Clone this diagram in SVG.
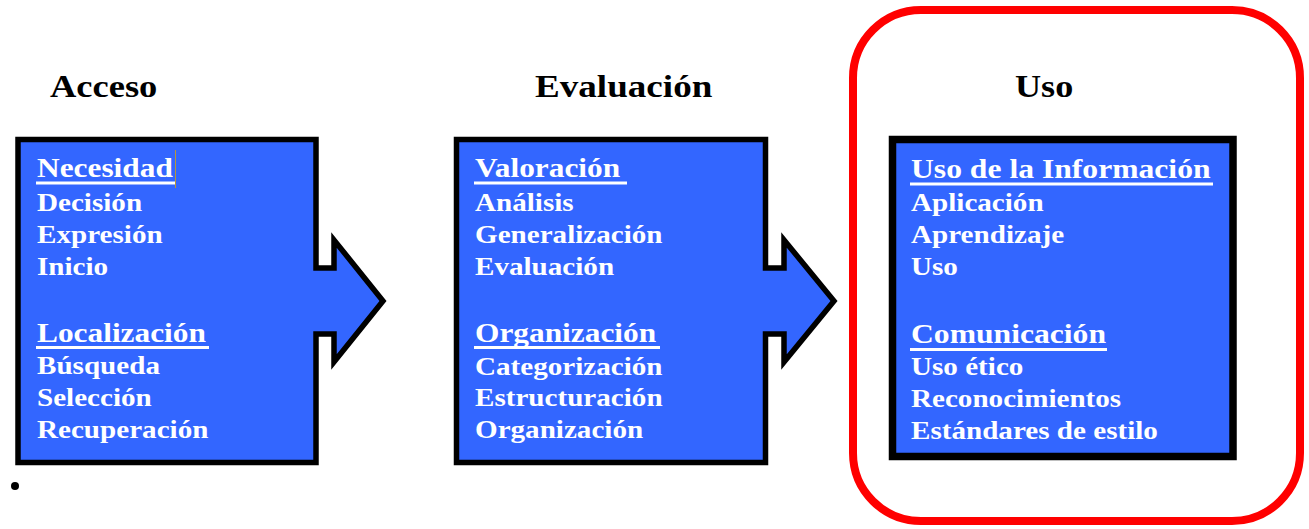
<svg xmlns="http://www.w3.org/2000/svg" width="1309" height="529" viewBox="0 0 1309 529">
<style>
.box{fill:#3366FF;stroke:#000;stroke-width:5.5;stroke-linejoin:miter;stroke-miterlimit:10}
.hd{font-family:"Liberation Serif","Times New Roman",serif;font-weight:bold;font-size:32px;fill:#000}
.t{font-family:"Liberation Serif","Times New Roman",serif;font-weight:bold;fill:#fff}
.h{font-size:28px}
.i{font-size:26px}
.ul{stroke:#fff;stroke-width:3}
</style>
<rect id="highlight" x="853" y="10" width="447" height="511" rx="68" ry="68" fill="none" stroke="#FF0000" stroke-width="8"/>
<g id="headings">
<text class="hd" transform="translate(50 97) scale(1.14 1)">Acceso</text>
<text class="hd" transform="translate(535 97) scale(1.16 1)">Evaluación</text>
<text class="hd" transform="translate(1015 97) scale(1.13 1)">Uso</text>
</g>
<g id="connectors">
</g>
<g id="node-acceso">
<path class="box" d="M18,139.5 H316 V268 H334 V240 L383,301 L334,362 V334 H316 V462.5 H18 Z"/>
<text class="t h" transform="translate(37 177) scale(1.12 1)">Necesidad</text>
<line class="ul" x1="36" y1="183" x2="175" y2="183"/>
<line x1="175.5" y1="150" x2="175.5" y2="188" stroke="#B8963A" stroke-width="1"/>
<text class="t i" transform="translate(37 211) scale(1.12 1)">Decisión</text>
<text class="t i" transform="translate(37 243) scale(1.12 1)">Expresión</text>
<text class="t i" transform="translate(37 275) scale(1.12 1)">Inicio</text>
<text class="t h" transform="translate(37 342) scale(1.12 1)">Localización</text>
<line class="ul" x1="36" y1="347.5" x2="209" y2="347.5"/>
<text class="t i" transform="translate(37 374) scale(1.12 1)">Búsqueda</text>
<text class="t i" transform="translate(37 406) scale(1.12 1)">Selección</text>
<text class="t i" transform="translate(37 438) scale(1.12 1)">Recuperación</text>
</g>
<g id="node-evaluacion">
<path class="box" d="M456.5,139.5 H765.5 V268 H784 V240 L834,301 L784,362 V334 H765.5 V462.5 H456.5 Z"/>
<text class="t h" transform="translate(475 177) scale(1.12 1)">Valoración</text>
<line class="ul" x1="474" y1="183" x2="627" y2="183"/>
<text class="t i" transform="translate(475 211) scale(1.12 1)">Análisis</text>
<text class="t i" transform="translate(475 243) scale(1.12 1)">Generalización</text>
<text class="t i" transform="translate(475 275) scale(1.12 1)">Evaluación</text>
<text class="t h" transform="translate(475 342) scale(1.12 1)">Organización</text>
<line class="ul" x1="474" y1="347.5" x2="660" y2="347.5"/>
<text class="t i" transform="translate(475 375) scale(1.12 1)">Categorización</text>
<text class="t i" transform="translate(475 406) scale(1.12 1)">Estructuración</text>
<text class="t i" transform="translate(475 438) scale(1.12 1)">Organización</text>
</g>
<g id="node-uso">
<rect x="892.5" y="139.5" width="340.5" height="317" fill="#3366FF" stroke="#000" stroke-width="7.5"/>
<text class="t h" transform="translate(911 178) scale(1.13 1)">Uso de la Información</text>
<line class="ul" x1="910" y1="184" x2="1213" y2="184"/>
<text class="t i" transform="translate(911 211) scale(1.12 1)">Aplicación</text>
<text class="t i" transform="translate(911 243) scale(1.12 1)">Aprendizaje</text>
<text class="t i" transform="translate(911 275) scale(1.12 1)">Uso</text>
<text class="t h" transform="translate(911 343) scale(1.13 1)">Comunicación</text>
<line class="ul" x1="910" y1="349.5" x2="1107" y2="349.5"/>
<text class="t i" transform="translate(911 375) scale(1.12 1)">Uso ético</text>
<text class="t i" transform="translate(911 407) scale(1.12 1)">Reconocimientos</text>
<text class="t i" transform="translate(911 439) scale(1.12 1)">Estándares de estilo</text>
</g>
<circle id="bullet" cx="15" cy="486" r="4" fill="#000"/>
</svg>
